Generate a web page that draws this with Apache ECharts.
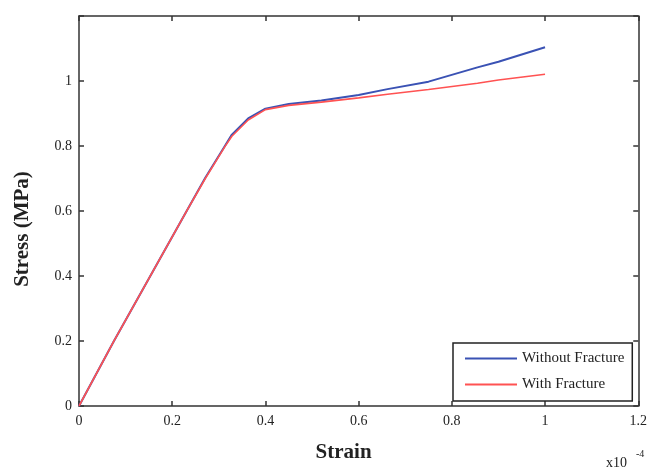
<!DOCTYPE html>
<html>
<head>
<meta charset="utf-8">
<script src="https://cdn.jsdelivr.net/npm/echarts@6/dist/echarts.min.js"></script>
<style>html,body{margin:0;padding:0;background:#fff}#c{width:650px;height:468px}</style>
</head>
<body>
<div id="c"></div>
<script>
// Strain (x10^-4)
var strain = [0, 0.075, 0.153, 0.231, 0.271, 0.313, 0.328, 0.363, 0.4, 0.45, 0.52, 0.6, 0.662, 0.75, 0.855, 0.9, 1.0];
// Stress (MPa)
var withoutFracture = [0, 0.2, 0.4, 0.6, 0.702, 0.8, 0.835, 0.885, 0.915, 0.929, 0.940, 0.957, 0.975, 0.998, 1.042, 1.059, 1.104];
var withFracture    = [0, 0.2, 0.4, 0.6, 0.700, 0.798, 0.830, 0.880, 0.912, 0.925, 0.935, 0.948, 0.959, 0.974, 0.993, 1.003, 1.021];
var seriesNames = ['Without Fracture', 'With Fracture'];
var xTicks = [0, 0.2, 0.4, 0.6, 0.8, 1, 1.2];
var yTicks = [0, 0.2, 0.4, 0.6, 0.8, 1];

function pairs(xs, ys) { return xs.map(function (x, i) { return [x, ys[i]]; }); }

var font = '"Liberation Serif", "Times New Roman", serif';
var axisLineStyle = { color: '#333', width: 1.5 };
var chart = echarts.init(document.getElementById('c'));
chart.setOption({
  animation: false,
  backgroundColor: '#fff',
  grid: { left: 79, right: 9, top: 16, bottom: 60, containLabel: false },
  xAxis: [{
    type: 'value', min: 0, max: 1.2, interval: 0.2, position: 'bottom',
    name: 'Strain', nameLocation: 'middle', nameGap: 36,
    nameTextStyle: { fontFamily: font, fontSize: 21, fontWeight: 'bold', color: '#222', padding: [0, 30, 0, 0] },
    axisLine: { show: true, onZero: false, lineStyle: axisLineStyle },
    axisTick: { show: true, inside: true, length: 5, lineStyle: axisLineStyle },
    splitLine: { show: false },
    axisLabel: {
      fontFamily: font, fontSize: 14, color: '#222', margin: 8,
      formatter: function (v) { var r = Math.round(v * 10) / 10; return xTicks.indexOf(r) >= 0 ? String(r) : ''; }
    }
  }, {
    type: 'value', min: 0, max: 1.2, interval: 0.2, position: 'top', show: true,
    axisLine: { show: true, onZero: false, lineStyle: axisLineStyle },
    axisTick: { show: true, inside: true, length: 5, lineStyle: axisLineStyle },
    axisLabel: { show: false }, splitLine: { show: false }
  }],
  yAxis: [{
    type: 'value', min: 0, max: 1.2, interval: 0.2, position: 'left',
    name: 'Stress (MPa)', nameLocation: 'middle', nameGap: 46, nameRotate: 90,
    nameTextStyle: { fontFamily: font, fontSize: 21, fontWeight: 'bold', color: '#222', padding: [0, 36, 0, 0] },
    axisLine: { show: true, onZero: false, lineStyle: axisLineStyle },
    axisTick: { show: true, inside: true, length: 5, lineStyle: axisLineStyle },
    splitLine: { show: false },
    axisLabel: {
      fontFamily: font, fontSize: 14, color: '#222', margin: 7,
      formatter: function (v) { var r = Math.round(v * 10) / 10; return yTicks.indexOf(r) >= 0 ? String(r) : ''; }
    }
  }, {
    type: 'value', min: 0, max: 1.2, interval: 0.2, position: 'right', show: true,
    axisLine: { show: true, onZero: false, lineStyle: axisLineStyle },
    axisTick: { show: true, inside: true, length: 5, lineStyle: axisLineStyle },
    axisLabel: { show: false }, splitLine: { show: false }
  }],
  legend: {
    left: 453, top: 343, orient: 'vertical',
    backgroundColor: '#fff',
    borderColor: '#222', borderWidth: 1.5, borderRadius: 0,
    padding: [8, 8, 9, 12],
    icon: 'rect',
    itemWidth: 52, itemHeight: 2, itemGap: 11,
    textStyle: { fontFamily: font, fontSize: 15, color: '#222', lineHeight: 14 },
    data: seriesNames
  },
  graphic: [
    { type: 'text', left: 606, top: 456, style: { text: 'x10', font: '14px ' + font, fill: '#222' } },
    { type: 'text', left: 636, top: 449, style: { text: '-4', font: '10px ' + font, fill: '#222' } }
  ],
  series: [{
    name: seriesNames[0], type: 'line', symbol: 'none', smooth: false,
    xAxisIndex: 0, yAxisIndex: 0,
    lineStyle: { color: '#3a52b4', width: 2 }, itemStyle: { color: '#3a52b4' },
    data: pairs(strain, withoutFracture), z: 2
  }, {
    name: seriesNames[1], type: 'line', symbol: 'none', smooth: false,
    xAxisIndex: 0, yAxisIndex: 0,
    lineStyle: { color: '#ff5252', width: 1.6 }, itemStyle: { color: '#ff5252' },
    data: pairs(strain, withFracture), z: 3
  }, {
    name: 'frame', type: 'line', symbol: 'none', silent: true,
    xAxisIndex: 1, yAxisIndex: 1, data: [],
    lineStyle: { opacity: 0 }
  }]
});
</script>
</body>
</html>
